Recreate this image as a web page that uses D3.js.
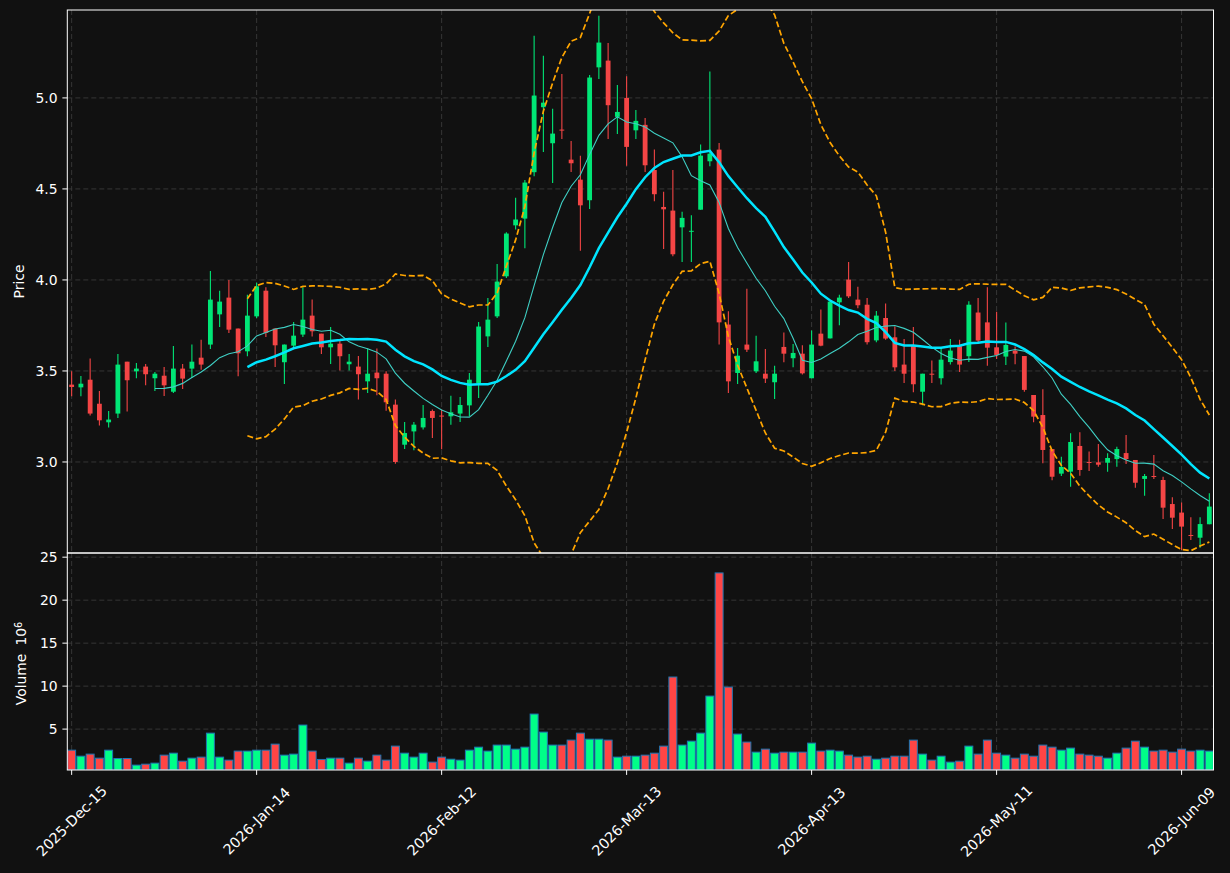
<!DOCTYPE html>
<html>
<head>
<meta charset="utf-8">
<script src="https://cdn.jsdelivr.net/npm/d3@7"></script>
<style>
  html, body { margin: 0; padding: 0; background: #111111; }
  svg { display: block; font-family: "DejaVu Sans", sans-serif; }
</style>
</head>
<body>
<div id="chart"></div>
<script>

// daily OHLC, index 0 = 2025-Dec-15
const opens = [3.425,3.410,3.452,3.320,3.218,3.266,3.551,3.498,3.524,3.460,
  3.474,3.386,3.513,3.513,3.573,3.645,3.811,3.903,3.733,3.608,
  3.800,3.941,3.733,3.548,3.639,3.700,3.804,3.705,3.630,3.650,
  3.537,3.524,3.443,3.491,3.485,3.315,3.095,3.168,3.190,3.280,
  3.255,3.251,3.266,3.311,3.434,3.690,3.800,4.020,4.300,4.337,
  4.592,4.949,4.751,4.826,4.661,4.551,4.438,5.168,5.205,4.896,
  5.000,4.822,4.852,4.604,4.401,4.381,4.289,4.267,4.386,4.652,
  4.716,3.755,3.489,3.645,3.498,3.485,3.438,3.632,3.570,3.595,
  3.460,3.705,3.679,3.877,4.002,3.892,3.864,3.668,3.791,3.685,
  3.535,3.643,3.386,3.485,3.460,3.549,3.636,3.581,3.821,3.767,
  3.630,3.579,3.612,3.582,3.368,3.258,3.071,2.936,2.947,3.088,
  3.000,2.998,2.996,3.016,3.049,3.011,2.907,2.923,2.901,2.769,
  2.722,2.599,2.584,2.658];

const highs = [3.498,3.473,3.568,3.390,3.280,3.593,3.551,3.544,3.538,3.495,
  3.522,3.637,3.538,3.645,3.672,4.049,3.940,4.000,3.733,3.919,
  3.984,3.960,3.733,3.645,3.769,3.960,3.892,3.705,3.742,3.668,
  3.593,3.582,3.623,3.623,3.498,3.343,3.220,3.220,3.313,3.289,
  3.288,3.364,3.357,3.489,3.769,3.901,4.088,4.262,4.451,4.549,
  5.341,5.231,4.940,5.132,4.764,4.683,5.126,5.452,5.302,5.071,
  5.119,4.934,4.890,4.716,4.484,4.604,4.374,4.355,4.744,5.145,
  4.753,3.828,3.626,3.951,3.694,3.621,3.529,3.712,3.648,3.641,
  3.723,3.837,3.881,3.919,4.099,3.962,3.901,3.830,3.870,3.744,
  3.676,3.742,3.485,3.557,3.632,3.676,3.672,3.883,3.901,3.960,
  3.826,3.766,3.634,3.582,3.368,3.399,3.071,3.029,3.158,3.163,
  3.057,3.099,3.048,3.084,3.148,3.011,2.934,3.038,2.919,2.806,
  2.777,2.696,2.696,2.828];

const lows = [3.361,3.361,3.256,3.201,3.190,3.242,3.278,3.460,3.421,3.390,
  3.363,3.379,3.401,3.462,3.507,3.621,3.742,3.709,3.471,3.581,
  3.791,3.687,3.522,3.429,3.632,3.687,3.690,3.593,3.538,3.502,
  3.502,3.343,3.379,3.366,3.282,2.990,3.071,3.064,3.178,3.132,
  3.070,3.205,3.220,3.251,3.352,3.632,3.791,4.011,4.277,4.174,
  4.570,4.703,4.533,4.775,4.593,4.161,4.390,5.104,4.775,4.802,
  4.628,4.775,4.593,4.432,4.170,4.130,4.099,4.099,4.386,4.625,
  3.645,3.379,3.429,3.604,3.489,3.434,3.346,3.548,3.520,3.480,
  3.460,3.636,3.679,3.751,3.901,3.844,3.645,3.658,3.672,3.500,
  3.434,3.383,3.311,3.434,3.425,3.535,3.494,3.549,3.654,3.529,
  3.566,3.533,3.537,3.386,3.218,2.993,2.899,2.923,2.864,2.925,
  2.951,2.974,2.947,2.974,2.989,2.859,2.815,2.907,2.687,2.632,
  2.516,2.571,2.529,2.658];

const closes = [3.412,3.430,3.266,3.229,3.233,3.535,3.449,3.513,3.482,3.485,
  3.421,3.513,3.458,3.551,3.535,3.892,3.881,3.727,3.597,3.804,
  3.965,3.709,3.641,3.645,3.694,3.782,3.718,3.630,3.650,3.581,
  3.551,3.482,3.485,3.460,3.328,3.000,3.159,3.205,3.242,3.242,
  3.250,3.273,3.313,3.452,3.744,3.782,3.991,4.255,4.332,4.535,
  5.013,4.974,4.804,4.822,4.641,4.410,5.112,5.304,4.960,4.923,
  4.731,4.874,4.630,4.471,4.388,4.141,4.341,4.270,4.683,4.694,
  3.767,3.443,3.584,3.617,3.553,3.458,3.485,3.595,3.599,3.487,
  3.645,3.639,3.881,3.903,3.910,3.861,3.658,3.804,3.678,3.520,
  3.485,3.427,3.485,3.482,3.562,3.612,3.535,3.864,3.667,3.628,
  3.588,3.643,3.595,3.396,3.249,3.066,2.919,2.973,3.110,2.956,
  2.996,2.985,3.022,3.071,3.016,2.886,2.923,2.919,2.749,2.694,
  2.645,2.595,2.659,2.755];

// volume in millions
const volumes = [2.55,1.85,2.09,1.62,2.55,1.58,1.58,0.81,0.92,1.04,
  1.97,2.20,1.27,1.62,1.74,4.53,1.74,1.39,2.44,2.44,
  2.55,2.55,3.25,1.97,2.09,5.47,2.44,1.47,1.62,1.62,
  1.04,1.62,1.27,1.97,1.39,3.02,2.20,1.74,2.20,1.16,
  1.74,1.50,1.39,2.55,2.90,2.44,3.14,3.14,2.67,2.90,
  6.75,4.65,3.14,3.14,3.72,4.53,3.83,3.83,3.72,1.74,
  1.85,1.85,1.97,2.20,3.02,11.06,3.14,3.60,4.53,8.84,
  23.17,9.89,4.42,3.49,2.32,2.67,2.20,2.32,2.32,2.32,
  3.37,2.44,2.55,2.44,1.97,1.74,1.85,1.50,1.62,1.85,
  1.85,3.72,2.09,1.39,1.85,1.16,1.27,3.02,2.09,3.72,
  2.20,1.97,1.62,2.09,1.85,3.14,2.90,2.55,2.79,2.09,
  1.97,1.85,1.62,2.20,2.79,3.60,2.90,2.44,2.55,2.32,
  2.67,2.44,2.55,2.44];

const tickIdx    = [0, 20, 40, 60, 80, 100, 120];
const tickLabels = ["2025-Dec-15", "2026-Jan-14", "2026-Feb-12", "2026-Mar-13",
                    "2026-Apr-13", "2026-May-11", "2026-Jun-09"];
const priceTicks = [3.0, 3.5, 4.0, 4.5, 5.0];
const volTicks   = [5, 10, 15, 20, 25];


const W = 1230, H = 873;
const left = 67.3, right = 1213.5,
      pTop = 10, pBot = 553,
      vTop = 553, vBot = 770;

const upCandle = "#00e676", dnCandle = "#f44545",
      upVol = "#00ff88",    dnVol = "#ff4545",
      gridCol = "#3a3a3a",  fontPx = 13.9;

const n = closes.length;

const x = d3.scaleLinear().domain([-0.47, n - 1 + 0.45]).range([left, right]);
const step = x(1) - x(0);

const yP = d3.scaleLinear().domain([2.5, 5.483]).range([pBot, pTop]);
const yV = d3.scaleLinear()
  .domain([0.3 * d3.min(volumes), 1.1 * d3.max(volumes)])
  .range([vBot, vTop]);

// moving averages and bollinger (20, 2) from the closes
function rolling(arr, len, fn) {
  return arr.map((_, i) => i < len - 1 ? null : fn(arr.slice(i - len + 1, i + 1)));
}
const ma10 = rolling(closes, 10, d3.mean);
const ma20 = rolling(closes, 20, d3.mean);
const sd20 = rolling(closes, 20, d3.deviation);
const bbUp = ma20.map((m, i) => m == null ? null : m + 2 * sd20[i]);
const bbLo = ma20.map((m, i) => m == null ? null : m - 2 * sd20[i]);

const svg = d3.select("#chart").append("svg")
  .attr("width", W).attr("height", H);

svg.append("rect").attr("width", W).attr("height", H).attr("fill", "#111111");

const defs = svg.append("defs");
defs.append("clipPath").attr("id", "clipP")
  .append("rect").attr("x", left).attr("y", pTop)
  .attr("width", right - left).attr("height", pBot - pTop);
defs.append("clipPath").attr("id", "clipV")
  .append("rect").attr("x", left).attr("y", vTop)
  .attr("width", right - left).attr("height", vBot - vTop);

// grid
const grid = svg.append("g")
  .attr("stroke", gridCol).attr("stroke-width", 0.9)
  .attr("stroke-dasharray", "5,3").attr("fill", "none");

tickIdx.forEach(i => {
  grid.append("line").attr("x1", x(i)).attr("x2", x(i)).attr("y1", pTop).attr("y2", pBot);
  grid.append("line").attr("x1", x(i)).attr("x2", x(i)).attr("y1", vTop).attr("y2", vBot);
});
priceTicks.forEach(v => {
  grid.append("line").attr("x1", left).attr("x2", right).attr("y1", yP(v)).attr("y2", yP(v));
});
volTicks.forEach(v => {
  grid.append("line").attr("x1", left).attr("x2", right).attr("y1", yV(v)).attr("y2", yV(v));
});

const bars = d3.range(n).map(i => ({
  i, o: opens[i], h: highs[i], l: lows[i], c: closes[i], v: volumes[i],
  up: closes[i] >= opens[i]
}));

// candles
const pG = svg.append("g").attr("clip-path", "url(#clipP)");

pG.selectAll("line.wick")
  .data(bars)
  .join("line")
    .attr("class", "wick")
    .attr("x1", d => x(d.i)).attr("x2", d => x(d.i))
    .attr("y1", d => yP(d.h)).attr("y2", d => yP(d.l))
    .attr("stroke", d => d.up ? upCandle : dnCandle)
    .attr("stroke-width", 1.1);

pG.selectAll("rect.body")
  .data(bars)
  .join("rect")
    .attr("class", "body")
    .attr("x", d => x(d.i) - step * 0.26)
    .attr("width", step * 0.52)
    .attr("y", d => yP(Math.max(d.o, d.c)))
    .attr("height", d => Math.max(1, Math.abs(yP(d.o) - yP(d.c))))
    .attr("fill", d => d.up ? upCandle : dnCandle);

// overlay lines
const line = d3.line()
  .defined(d => d != null)
  .x((d, i) => x(i))
  .y(d => yP(d));

pG.append("path").datum(ma10)
  .attr("d", line).attr("fill", "none")
  .attr("stroke", "#3fcfc4").attr("stroke-width", 1.1);

pG.append("path").datum(ma20)
  .attr("d", line).attr("fill", "none")
  .attr("stroke", "#00e5ff").attr("stroke-width", 2.5);

[bbUp, bbLo].forEach(b => {
  pG.append("path").datum(b)
    .attr("d", line).attr("fill", "none")
    .attr("stroke", "#ffa500").attr("stroke-width", 1.7)
    .attr("stroke-dasharray", "6,2.8");
});

// volume
const vG = svg.append("g").attr("clip-path", "url(#clipV)");
vG.selectAll("rect.vol")
  .data(bars)
  .join("rect")
    .attr("class", "vol")
    .attr("x", d => x(d.i) - step * 0.43)
    .attr("width", step * 0.86)
    .attr("y", d => yV(d.v))
    .attr("height", d => vBot - yV(d.v))
    .attr("fill", d => d.up ? upVol : dnVol)
    .attr("stroke", "#1f77b4").attr("stroke-width", 1);

// frames
[[pTop, pBot], [vTop, vBot]].forEach(([t, b]) => {
  svg.append("rect")
    .attr("x", left).attr("y", t)
    .attr("width", right - left).attr("height", b - t)
    .attr("fill", "none").attr("stroke", "#ffffff").attr("stroke-width", 1);
});

// y axes
function yTicks(scale, vals, fmt) {
  const g = svg.append("g");
  vals.forEach(v => {
    g.append("line")
      .attr("x1", left - 4.9).attr("x2", left)
      .attr("y1", scale(v)).attr("y2", scale(v))
      .attr("stroke", "#ffffff").attr("stroke-width", 1);
    g.append("text")
      .attr("x", left - 9.7).attr("y", scale(v))
      .attr("dy", "0.35em")
      .attr("text-anchor", "end")
      .attr("fill", "#ffffff")
      .style("font-size", fontPx + "px")
      .text(fmt(v));
  });
}
yTicks(yP, priceTicks, d3.format(".1f"));
yTicks(yV, volTicks, d3.format("d"));

// x axis
const xg = svg.append("g");
tickIdx.forEach((i, k) => {
  xg.append("line")
    .attr("x1", x(i)).attr("x2", x(i))
    .attr("y1", vBot).attr("y2", vBot + 4.9)
    .attr("stroke", "#ffffff").attr("stroke-width", 1);
  xg.append("text")
    .attr("transform", `translate(${x(i)},${vBot + 51}) rotate(-45)`)
    .attr("text-anchor", "middle")
    .attr("dy", "0.35em")
    .attr("fill", "#ffffff")
    .style("font-size", "14.3px")
    .text(tickLabels[k]);
});

// axis labels
svg.append("text")
  .attr("transform", `translate(19,${(pTop + pBot) / 2}) rotate(-90)`)
  .attr("text-anchor", "middle")
  .attr("dy", "0.35em")
  .attr("fill", "#ffffff")
  .style("font-size", fontPx + "px")
  .text("Price");

const vl = svg.append("text")
  .attr("transform", `translate(21,${(vTop + vBot) / 2 + 2}) rotate(-90)`)
  .attr("text-anchor", "middle")
  .attr("dy", "0.35em")
  .attr("fill", "#ffffff")
  .style("font-size", fontPx + "px");
vl.append("tspan").text("Volume");
vl.append("tspan").attr("dx", 8).text("10");
vl.append("tspan").attr("dy", "-0.45em").style("font-size", "9.7px").text("6");

</script>
</body>
</html>
